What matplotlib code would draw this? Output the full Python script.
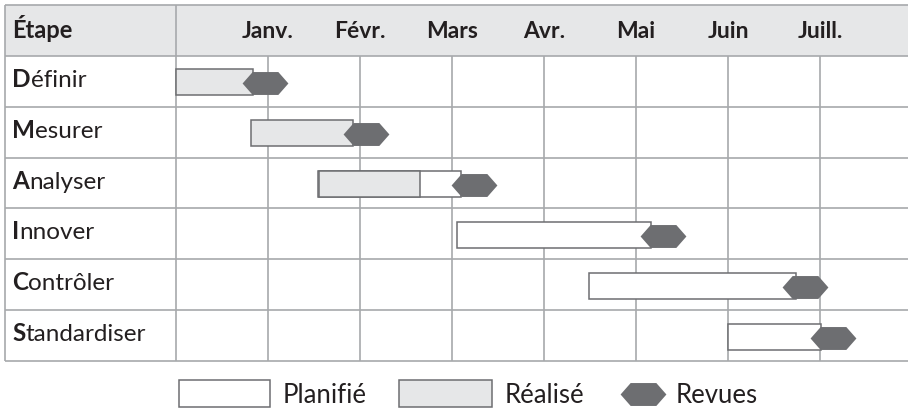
import numpy as np
import matplotlib.pyplot as plt
from matplotlib.patches import Rectangle

plt.rcParams['font.family'] = ['Lato', 'DejaVu Sans']

etapes = ["Définir", "Mesurer", "Analyser", "Innover", "Contrôler", "Standardiser"]
mois = ["Janv.", "Févr.", "Mars", "Avr.", "Mai", "Juin", "Juill."]
# positions en mois (0 = début de la grille, 1 = Janv., ...)
planifie_debut = [None, None, 1.54, 3.05, 4.49, 6.00]
planifie_fin = [None, None, 3.10, 5.16, 6.74, 7.01]
realise_debut = [0.00, 0.82, 1.55, None, None, None]
realise_fin = [0.84, 1.92, 2.65, None, None, None]
revues = [0.97, 2.07, 3.24, 5.29, 6.84, 7.14]

gris_fond = '#e6e7e8'
gris_fonce = '#6d6e71'
gris_grille = '#a7a9ac'
noir = '#231f20'

# hexagone allongé pour les revues
hexa = [(-1, 0), (-0.56, 0.5), (0.56, 0.5), (1, 0), (0.56, -0.5), (-0.56, -0.5), (-1, 0)]

fig = plt.figure(figsize=(9.08, 4.08), dpi=100)
ax = fig.add_axes([0, 0, 1, 1])
xg, xd = -171 / 92, 732 / 92
ax.set_xlim(-176 / 92, xd)
ax.set_ylim(7.424, -0.598)
ax.axis('off')

# en-tête
ax.add_patch(Rectangle((xg, -0.5), xd - xg, 1, fc=gris_fond, ec='none', zorder=0))
ax.text(xg + 7 / 92, 0.14, "Étape", fontsize=17, fontweight='bold', color=noir)
for i, m in enumerate(mois):
    ax.text(i + 1, 0.14, m, fontsize=16.5, fontweight='bold', color=noir, ha='center')

# grille
ax.hlines(np.arange(-0.5, len(etapes) + 1), xg, xd, color=gris_grille, lw=1.2, zorder=1)
ax.vlines([xg, 0], -0.5, len(etapes) + 0.5, color=gris_grille, lw=1.2, zorder=1)
ax.vlines(np.arange(1, len(mois) + 1), 0.5, len(etapes) + 0.5, color=gris_grille, lw=1.2, zorder=1)

# libellés des étapes (initiale en gras)
for i, e in enumerate(etapes):
    t = ax.text(xg + 7 / 92, i + 1.11, e[0], fontsize=17.5, fontweight='bold', color=noir)
    ax.annotate(e[1:], xy=(1, 0), xycoords=t, va='bottom', ha='left', fontsize=17.5, color=noir)

# barres
for i in range(len(etapes)):
    if planifie_debut[i] is not None:
        ax.barh(i + 1.02, planifie_fin[i] - planifie_debut[i], left=planifie_debut[i], height=0.51,
                color='white', edgecolor=gris_fonce, lw=1.1, zorder=2)
    if realise_debut[i] is not None:
        ax.barh(i + 1.02, realise_fin[i] - realise_debut[i], left=realise_debut[i], height=0.51,
                color=gris_fond, edgecolor=gris_fonce, lw=1.1, zorder=3)
ax.scatter(revues, np.arange(len(etapes)) + 1.04, marker=hexa, s=33 ** 2, color=gris_fonce,
           linewidths=0, zorder=4)

# légende
yl = 7.14
ax.add_patch(Rectangle((0.03, yl - 0.265), 0.99, 0.53, fc='white', ec=gris_fonce, lw=1.1))
ax.text(1.16, yl + 0.19, "Planifié", fontsize=18.5, color=noir)
ax.add_patch(Rectangle((2.42, yl - 0.265), 1.02, 0.53, fc=gris_fond, ec=gris_fonce, lw=1.1))
ax.text(3.57, yl + 0.19, "Réalisé", fontsize=18.5, color=noir)
ax.scatter([5.08], [yl], marker=hexa, s=33 ** 2, color=gris_fonce, linewidths=0)
ax.text(5.43, yl + 0.19, "Revues", fontsize=18.5, color=noir)

fig.savefig('out.png', dpi=100)
